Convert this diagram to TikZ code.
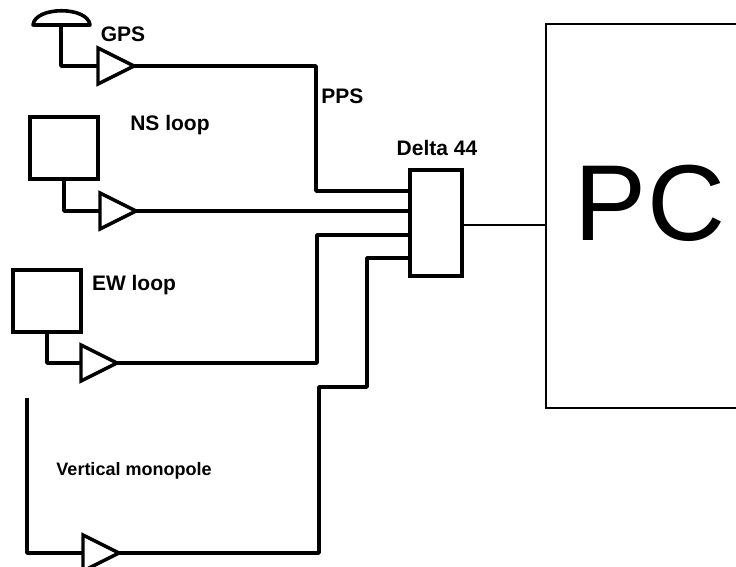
\documentclass[tikz,border=0pt]{standalone}
\usepackage{fontspec}
\setmainfont{Liberation Sans}
\usetikzlibrary{shapes.geometric, calc}
\tikzset{
    loopnode/.style={
        rectangle,
        draw, % 黑色边框
        line width=1.7pt, % 边框加粗
        minimum width=34pt,
        minimum height=31pt,
        inner sep=0
    },
    ampnode/.style={
        isosceles triangle,
        isosceles triangle stretches,
        draw, % 放大器
        line width=1.7pt,
        minimum height=18pt,
        minimum width=18pt,
        inner sep=0,
        outer sep=0,
        anchor=apex
    },
    textnode/.style={
        inner sep=0,
        font=\bfseries\fontsize{10.5}{12}\selectfont
    },
    wire/.style={
        line width=1.8pt,
        line join=round
    }
}

\begin{document}
\begin{tikzpicture}[x=0.5pt, y=-0.5pt]
    \useasboundingbox (0,0) rectangle (736,567);
    % 天线与放大器
    \draw[wire, fill=white] (33,25) .. controls (35,6) and (88,6) .. (90,25) -- cycle;
    \coordinate (gpsant) at (61,25);
    \node[ampnode] (ampgps) at (134,66) {};
    \node[loopnode] (nsloop) at (64,148) {};
    \node[ampnode] (ampns) at (136,211) {};
    \node[loopnode] (ewloop) at (47,301) {};
    \node[ampnode] (ampew) at (117,363) {};
    \coordinate (monotop) at (27,398);
    \coordinate (monobot) at (27,553);
    \node[ampnode] (ampmono) at (119,553) {};
    % 声卡和电脑
    \node[draw, line width=1.7pt, minimum width=26pt, minimum height=53pt, inner sep=0] (delta) at (436,223) {};
    \node[draw, line width=1.2pt, minimum width=110pt, minimum height=192pt, inner sep=0, anchor=north west] (pc) at (545,23) {};
    % 文字
    \node[textnode] (gpslabel) at (123,34) {GPS};
    \node[textnode, anchor=west] (ppslabel) at (321,96) {PPS};
    \node[textnode] (nslabel) at (170,125) {NS loop};
    \node[textnode] (deltalabel) at (437,148) {Delta 44};
    \node[textnode] (ewlabel) at (134,285) {EW loop};
    \node[textnode, font=\bfseries\fontsize{9}{11}\selectfont] (monolabel) at (134,471) {Vertical monopole};
    \node[inner sep=0, font=\fontsize{54}{54}\selectfont] (pclabel) at (650,203) {PC};
    % 连线
    \coordinate (gpsbend) at (316,191);
    \coordinate (ewbend) at (317,235);
    \coordinate (monobend) at (319,387);
    \coordinate (monoup) at (367,387);
    \coordinate (monoin) at (367,258);
    \draw[wire] (gpsant) |- (ampgps.west);
    \draw[wire] (ampgps.apex) -| (gpsbend) -- (gpsbend -| delta.west);
    \draw[wire] (nsloop.south) |- (ampns.west);
    \draw[wire] (ampns.apex) -- (ampns.apex -| delta.west);
    \draw[wire] (ewloop.south) |- (ampew.west);
    \draw[wire] (ampew.apex) -| (ewbend) -- (ewbend -| delta.west);
    \draw[wire] (monotop) -- (monobot) -- (ampmono.west);
    \draw[wire] (ampmono.apex) -| (monobend) -- (monoup) -- (monoin) -- (monoin -| delta.west);
    \draw[line width=1.2pt] (delta.east |- 0,225) -- (pc.west |- 0,225);
\end{tikzpicture}
\end{document}
